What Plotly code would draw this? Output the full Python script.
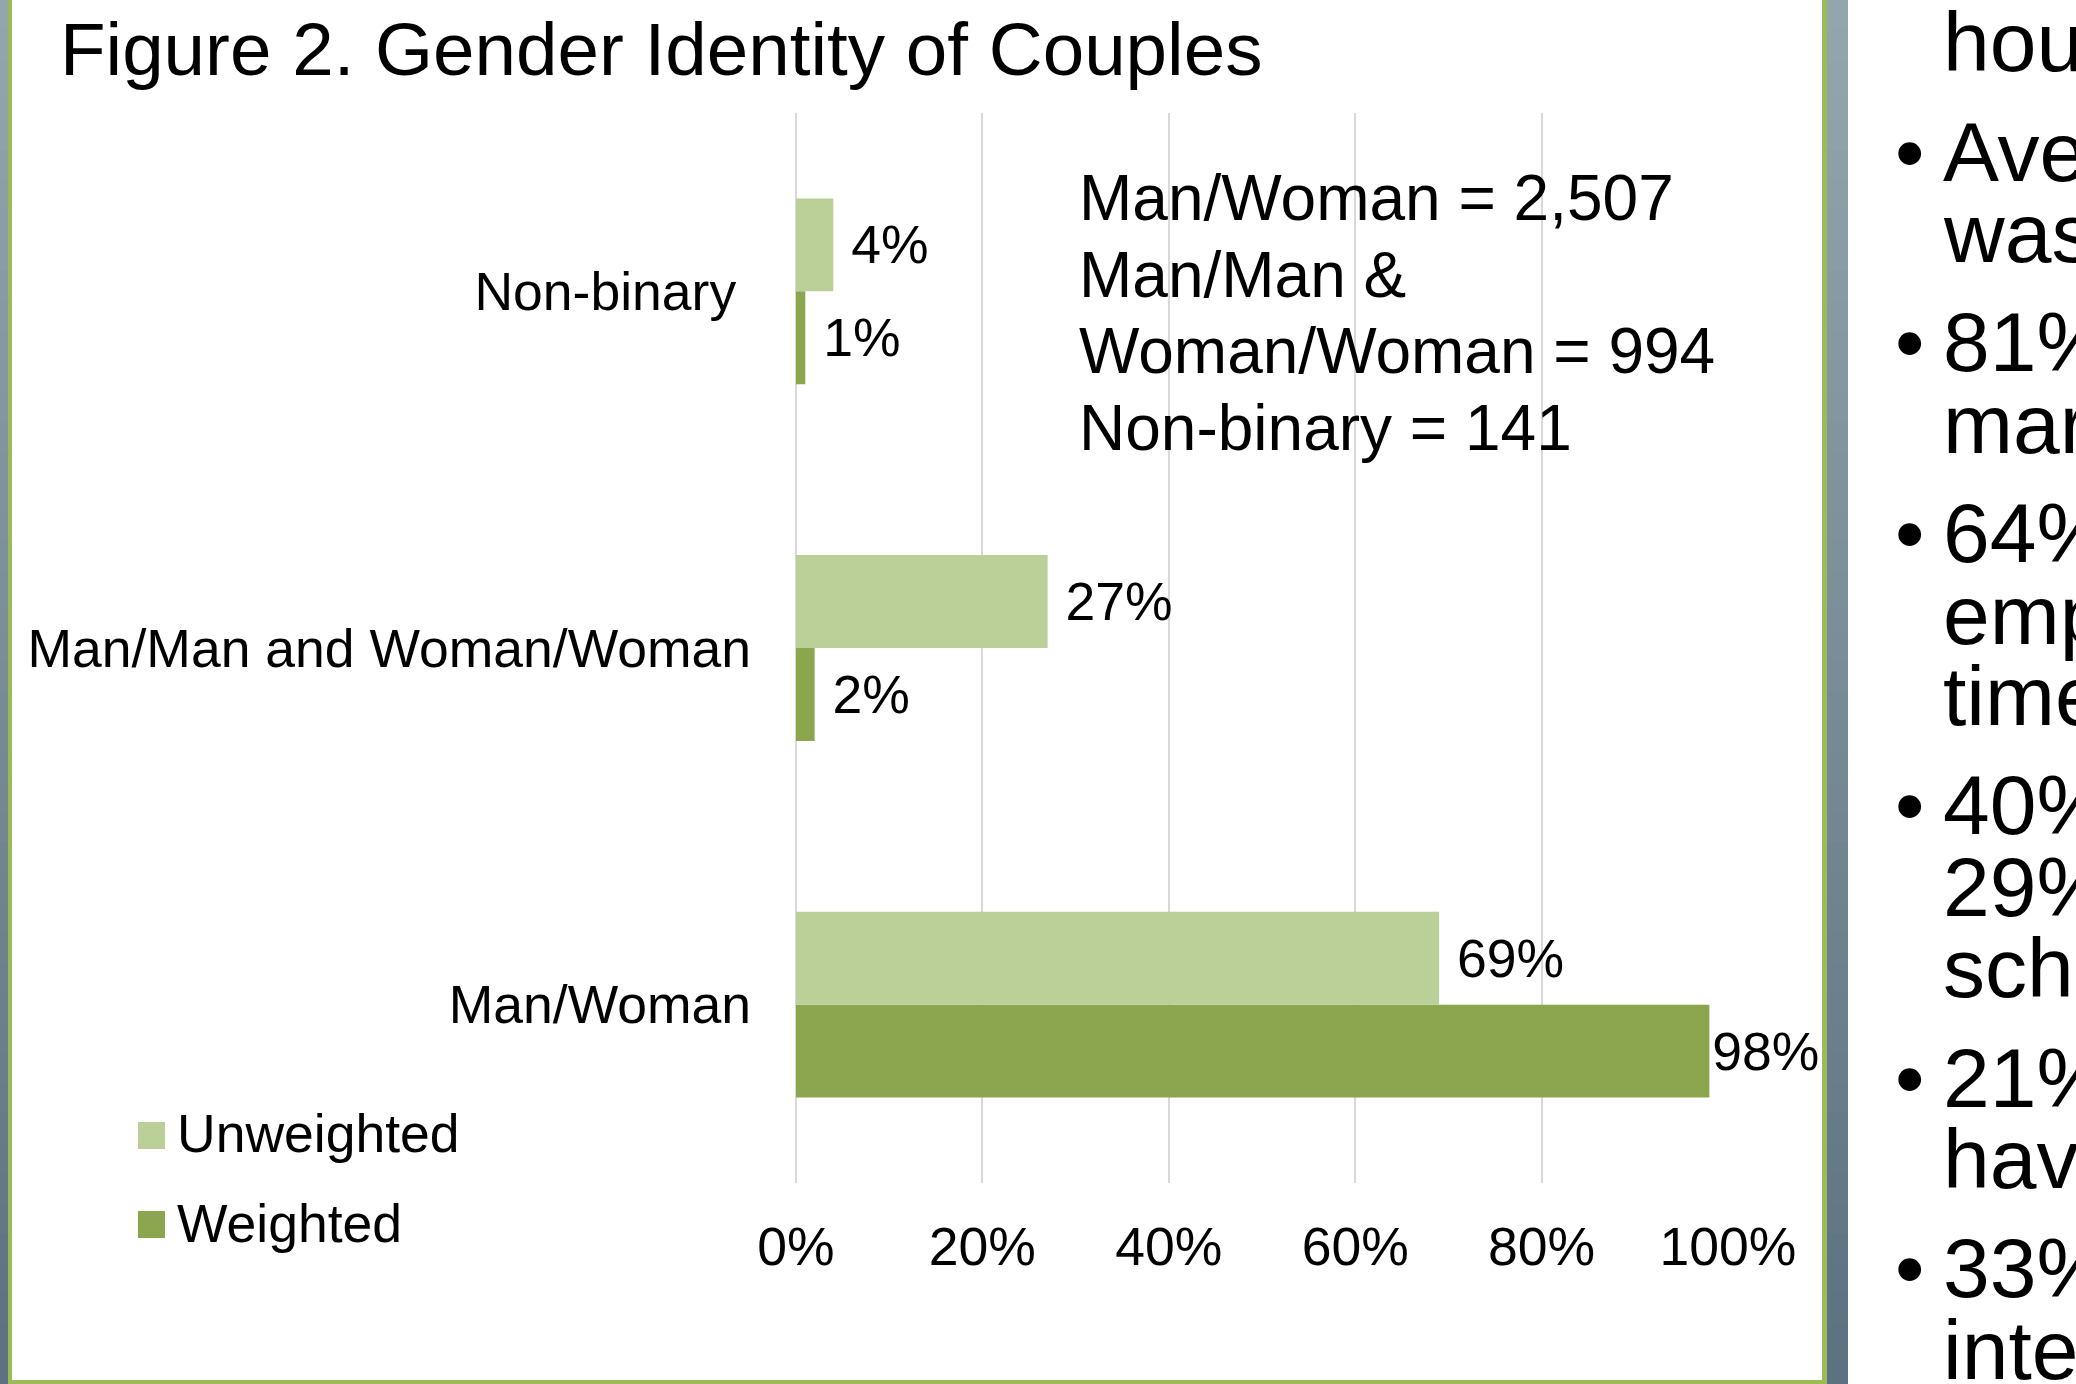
import plotly.graph_objects as go

W, H = 2076, 1384

# ---------------- data ----------------
categories = ["Man/Woman", "Man/Man and Woman/Woman", "Non-binary"]
category_ticktext = ["Man/Woman", "Man/Man and Woman/Woman", "Non-binary\u00a0"]
series_names = ["Unweighted", "Weighted"]
unweighted = [0.69, 0.27, 0.04]
weighted = [0.98, 0.02, 0.01]
x_tickvals = [0, 0.2, 0.4, 0.6, 0.8, 1.0]
x_ticktext = ["0%", "20%", "40%", "60%", "80%", "100%"]
title_text = "Figure 2. Gender Identity of Couples"
sample_notes = ["Man/Woman = 2,507", "Man/Man &", "Woman/Woman = 994", "Non-binary = 141"]
side_bullets = ["", "\u2022", "", "\u2022", "", "\u2022", "", "", "\u2022", "", "", "\u2022", "", "\u2022", ""]
side_words = ["hou", "Ave", "was", "81%", "mar", "64%", "emp", "time", "40%", "29%", "sch", "21%", "hav", "33%", "inte"]

# ---------------- style ----------------
FONT = "Liberation Sans, Arial, sans-serif"
LIGHT = "#BBCF98"
DARK = "#8BA64F"
BORDER = "#9BBB59"
GRID = "#D9D9D9"
FS = 53.5


def px(x):
    return x / W


def py(y):
    return 1 - y / H


def labels(vals, pad_limit=0.9):
    out = []
    for v in vals:
        s = f"{round(v * 100)}%"
        out.append(s if v > pad_limit else "\u00a0" + s)
    return out


fig = go.Figure()
fig.add_trace(go.Bar(
    y=categories, x=weighted, orientation="h", name=series_names[1],
    marker=dict(color=DARK, line=dict(width=0)),
    text=labels(weighted), textposition="outside", cliponaxis=False,
    constraintext="none", textfont=dict(family=FONT, size=FS, color="black"),
    showlegend=False, hoverinfo="skip"))
fig.add_trace(go.Bar(
    y=categories, x=unweighted, orientation="h", name=series_names[0],
    marker=dict(color=LIGHT, line=dict(width=0)),
    text=labels(unweighted), textposition="outside", cliponaxis=False,
    constraintext="none", textfont=dict(family=FONT, size=FS, color="black"),
    showlegend=False, hoverinfo="skip"))

shapes = []
# gradient grey strips
N = 46
top_c = (148, 166, 174)
bot_c = (92, 113, 127)
for i in range(N):
    t = (i + 0.5) / N
    c = tuple(round(top_c[k] + (bot_c[k] - top_c[k]) * t) for k in range(3))
    col = f"rgb{c}"
    y0 = H * i / N
    y1 = H * (i + 1) / N + 1
    for (xa, xb) in [(0, 8), (1827, 1848)]:
        shapes.append(dict(type="rect", xref="paper", yref="paper",
                           x0=px(xa), x1=px(xb), y0=py(y1), y1=py(y0),
                           fillcolor=col, line=dict(width=0), layer="below"))
# green panel border
for (xa, xb, ya, yb) in [(8, 12, 0, 1384), (1822, 1827, 0, 1384), (8, 1827, 1380, 1384)]:
    shapes.append(dict(type="rect", xref="paper", yref="paper",
                       x0=px(xa), x1=px(xb), y0=py(yb), y1=py(ya),
                       fillcolor=BORDER, line=dict(width=0), layer="below"))
# legend swatches
for (ya, col) in [(1122, LIGHT), (1211, DARK)]:
    shapes.append(dict(type="rect", xref="paper", yref="paper",
                       x0=px(138), x1=px(165), y0=py(ya + 27), y1=py(ya),
                       fillcolor=col, line=dict(width=0)))

ann = []
ann.append(dict(text=title_text, x=px(58), y=py(75 - 0.3465 * 74.6), xref="paper", yref="paper",
                xanchor="left", yanchor="middle", showarrow=False,
                font=dict(family=FONT, size=74.6, color="black")))
for i, name in enumerate(series_names):
    base = [1152, 1242][i]
    ann.append(dict(text=name, x=px(175), y=py(base - 0.3465 * FS), xref="paper", yref="paper",
                    xanchor="left", yanchor="middle", showarrow=False,
                    font=dict(family=FONT, size=FS, color="black")))
for i, line in enumerate(sample_notes):
    base = 220 + i * 76.7
    ann.append(dict(text=line, x=px(1077), y=py(base - 0.3465 * 64), xref="paper", yref="paper",
                    xanchor="left", yanchor="middle", showarrow=False,
                    font=dict(family=FONT, size=64, color="black")))
base = 71
for i, (b, w) in enumerate(zip(side_bullets, side_words)):
    if i > 0:
        base += 81.2 + (28.5 if b else 0)
    yc = py(base - 0.3465 * 84)
    ann.append(dict(text=w, x=px(1941), y=yc, xref="paper", yref="paper",
                    xanchor="left", yanchor="middle", showarrow=False,
                    font=dict(family=FONT, size=84, color="black")))
    if b:
        ann.append(dict(text=b, x=px(1909), y=yc, xref="paper", yref="paper",
                        xanchor="center", yanchor="middle", showarrow=False,
                        font=dict(family=FONT, size=84, color="black")))

fig.update_layout(
    width=W, height=H, autosize=False,
    margin=dict(l=0, r=0, t=0, b=0, pad=0),
    paper_bgcolor="white", plot_bgcolor="white",
    barmode="group", bargap=0.479, bargroupgap=0,
    font=dict(family=FONT, color="black"),
    shapes=shapes, annotations=ann, showlegend=False,
    xaxis=dict(domain=[px(796), px(1728)], range=[0, 1], tickmode="array",
               tickvals=x_tickvals, ticktext=x_ticktext,
               showgrid=True, gridcolor=GRID, gridwidth=2,
               zeroline=True, zerolinecolor=GRID, zerolinewidth=2,
               showline=False, ticks="", ticklabelstandoff=27,
               tickfont=dict(family=FONT, size=FS, color="black"), automargin=False),
    yaxis=dict(domain=[py(1183), py(113)], type="category",
               categoryorder="array", categoryarray=categories,
               tickmode="array", tickvals=categories, ticktext=category_ticktext,
               showgrid=False, zeroline=False, showline=False, ticks="",
               ticklabelstandoff=44,
               tickfont=dict(family=FONT, size=FS, color="black"), automargin=False),
)

fig.write_html(
    "out.html",
    config={"displayModeBar": False},
    post_script="document.documentElement.style.margin='0';document.body.style.margin='0';"
                "document.body.style.overflow='hidden';document.documentElement.style.overflow='hidden';",
)
